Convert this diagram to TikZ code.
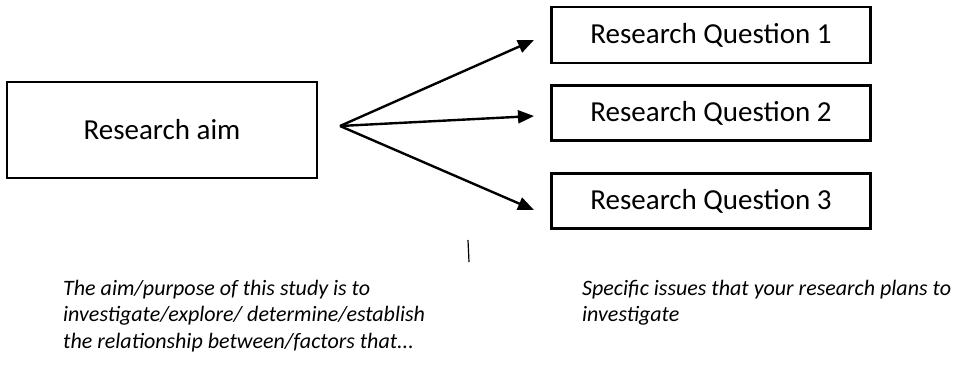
\documentclass[tikz,border=0pt]{standalone}
\usepackage{fontspec}
\setmainfont{Carlito}
\usetikzlibrary{arrows.meta}
\begin{document}
\begin{tikzpicture}[x=1pt,y=-1pt,
  box/.style={draw,line width=2.2pt,inner sep=0pt,font=\fontsize{29}{33}\selectfont},
  note/.style={anchor=north west,align=left,inner sep=0pt,font=\fontsize{22}{26.5}\selectfont\itshape},
  arr/.style={line width=2.4pt,-{Triangle[length=16pt,width=13pt]}}]
\useasboundingbox (0,0) rectangle (958,367);
\node[box,minimum width=310pt,minimum height=96pt] (aim) at (162,130) {Research aim};
\node[box,minimum width=319pt,minimum height=56pt] (q1) at (711,35) {Research Question 1};
\node[box,minimum width=319pt,minimum height=55pt] (q2) at (711,113) {Research Question 2};
\node[box,minimum width=319pt,minimum height=55pt] (q3) at (711,201) {Research Question 3};
\coordinate (fan) at (340,126);
\coordinate (t1) at (534,40);
\coordinate (t2) at (534,116);
\coordinate (t3) at (534,210);
\draw[arr] (fan) -- (t1);
\draw[arr] (fan) -- (t2);
\draw[arr] (fan) -- (t3);
\coordinate (m1) at (468,240);
\coordinate (m2) at (469,262);
\draw[line width=1.2pt] (m1) -- (m2);
\node[note] (n1) at (63,280) {The aim/purpose of this study is to\\investigate/explore/ determine/establish\\the relationship between/factors that...};
\node[note] (n2) at (582,280) {Specific issues that your research plans to\\investigate};
\end{tikzpicture}
\end{document}
